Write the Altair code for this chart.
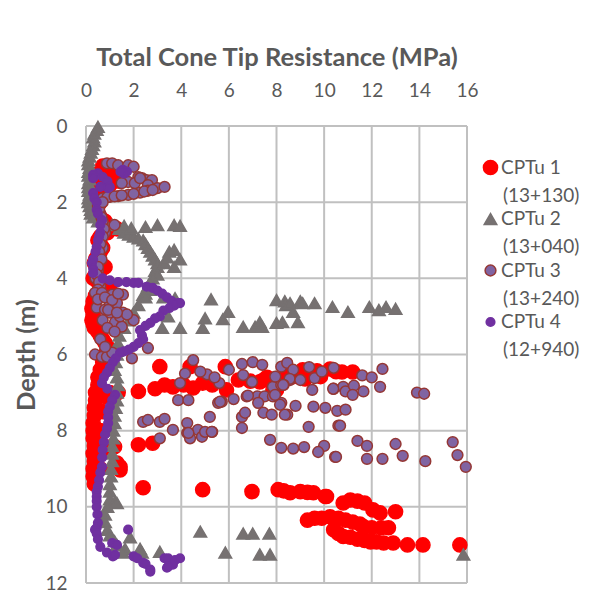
import altair as alt
import pandas as pd

series_names = ["CPTu 1", "CPTu 2", "CPTu 3", "CPTu 4"]
stations = ["(13+130)", "(13+040)", "(13+240)", "(12+940)"]
fills = ["#ff0000", "#767171", "#8064a2", "#7030a0"]
strokes = ["#ff0000", "#767171", "#953735", "#7030a0"]
shapes = ["circle", "triangle-up", "circle", "circle"]
sizes = [200, 75, 70, 95]
x_ticks = [0, 2, 4, 6, 8, 10, 12, 14, 16]
y_ticks = [0, 2, 4, 6, 8, 10, 12]

# CPTu 1 (13+130)
cpt1_q = [0.7, 0.9, 0.6, 0.5, 0.7, 0.8, 0.6, 0.5, 0.4, 0.5, 0.6, 0.5, 0.4, 0.5, 0.6, 0.8, 1.1, 1.3, 0.9, 0.6,
          0.5, 0.6, 0.7, 0.6, 0.5, 0.4, 0.35, 0.5, 0.8, 0.6, 0.4, 0.3, 0.5, 0.8, 1.0, 0.7, 0.4, 0.3, 0.3, 0.25,
          0.3, 0.3, 0.25, 0.3, 0.35, 0.5, 0.6, 0.7, 0.8, 0.9, 1.0, 0.8, 0.7, 0.7, 1.2, 1.4, 1.0,
          3.1, 4.37, 5.85, 2.2, 2.9, 3.65, 4.5, 4.9, 5.9, 6.4, 7.3, 7.85, 8.7, 9.2, 9.85, 1.35, 7.45, 8.0, 8.6,
          9.1, 9.7, 10.25, 10.75, 11.2, 3.3, 4.1, 5.3, 6.9, 7.6, 8.3, 9.5, 10.5,
          0.6, 0.5, 0.5, 0.4, 0.4, 0.35, 0.35, 0.3, 0.3, 0.3, 0.35, 0.3, 0.35, 0.3, 0.3, 0.35, 0.8, 0.7, 0.6, 0.7,
          0.6, 1.13, 1.2, 1.3, 1.43, 1.43, 2.2, 2.8, 1.0, 1.2,
          2.4, 4.9, 6.97, 8.07, 8.3, 8.57, 9.0, 9.3, 9.55, 10.05, 10.1,
          10.8, 11.1, 11.4, 11.7, 12.05, 12.35, 13.0, 10.25, 9.3, 9.6, 9.9, 10.6, 10.9, 11.2, 11.5, 11.65, 12.0,
          12.4, 12.7, 10.4, 10.8, 10.6, 11.1, 11.4, 11.7, 11.95, 12.2, 12.5, 12.9, 13.5, 14.15, 15.7]
cpt1_d = [1.05, 1.1, 1.2, 1.3, 1.4, 1.5, 1.6, 1.7, 1.8, 1.9, 2.0, 2.1, 2.2, 2.3, 2.4, 2.5, 2.65, 2.7, 2.8, 2.9,
          3.0, 3.1, 3.2, 3.3, 3.4, 3.5, 3.6, 3.7, 3.7, 3.8, 3.9, 4.0, 4.1, 4.2, 4.25, 4.35, 4.45, 4.6, 4.7, 4.8,
          4.9, 5.0, 5.1, 5.2, 5.3, 5.4, 5.5, 5.6, 5.7, 5.8, 5.9, 6.0, 6.1, 6.2, 1.25, 1.45, 1.55,
          6.32, 6.32, 6.32, 6.97, 6.9, 6.85, 6.88, 6.75, 6.93, 6.67, 6.72, 6.93, 6.58, 6.64, 6.58, 7.0, 6.67, 6.93, 6.53,
          6.4, 6.43, 6.38, 6.46, 6.46, 6.8, 6.8, 6.8, 6.7, 6.6, 6.6, 6.5, 6.45,
          6.4, 6.6, 6.8, 7.0, 7.2, 7.4, 7.6, 7.8, 8.0, 8.2, 8.4, 8.6, 8.8, 9.0, 9.2, 9.4, 7.1, 7.5, 8.0, 8.5,
          9.0, 8.4, 8.42, 8.85, 8.95, 9.03, 8.37, 8.33, 7.0, 7.05,
          9.5, 9.55, 9.6, 9.55, 9.58, 9.63, 9.6, 9.62, 9.63, 9.73, 9.73,
          9.9, 9.82, 9.85, 9.9, 10.08, 10.16, 10.13, 10.26, 10.35, 10.3, 10.3, 10.3, 10.35, 10.4, 10.45, 10.52, 10.55,
          10.55, 10.55, 10.6, 10.78, 10.7, 10.8, 10.85, 10.88, 10.92, 10.92, 10.95, 10.95, 11.0, 11.0, 11.0]

# CPTu 2 (13+040)
cpt2_q = [0.5, 0.45, 0.35, 0.3, 0.35, 0.3, 0.25, 0.2, 0.15, 0.1, 0.1, 0.15, 0.1, 0.1, 0.15, 0.1, 0.1, 0.1, 0.15, 0.1,
          0.1, 0.15, 0.2, 0.2, 0.3, 0.5, 0.8, 1.1,
          1.4, 1.6, 1.8, 2.0, 2.2, 2.4, 2.5, 2.6, 2.7, 2.8, 2.9, 3.0, 3.0, 2.9, 3.0, 2.8, 2.7, 2.6, 2.7, 2.5,
          1.6, 1.9, 2.5, 3.0, 3.7, 3.95, 3.5, 3.7, 3.95, 3.3, 3.7, 3.4,
          2.4, 3.25, 3.74, 3.45, 3.95, 3.2, 5.25, 5.0, 4.9, 5.75, 5.97, 6.6, 7.1, 7.3, 7.4, 8.0, 8.0, 8.25, 8.35, 8.4,
          8.57, 8.7, 8.9, 9.0, 9.1, 9.6, 10.35, 11.0, 11.9, 12.3, 12.6, 13.0,
          2.5, 2.2, 2.0, 1.8, 1.6, 1.4, 1.35, 1.3,
          1.3, 1.25, 1.2, 1.3, 1.35, 1.3, 1.3, 1.25, 1.2, 1.2, 1.15, 1.15, 1.1, 1.1, 1.1, 1.05, 1.05, 1.0, 1.0, 1.0,
          1.22, 1.3, 0.9, 0.8, 0.8, 0.9, 1.0, 1.2, 1.3,
          4.8, 6.6, 7.0, 7.7, 5.85, 7.3, 7.73, 1.64, 2.27, 3.1, 1.85, 2.35, 1.55, 15.85]
cpt2_d = [0.02, 0.1, 0.2, 0.3, 0.4, 0.5, 0.6, 0.7, 0.8, 0.9, 1.0, 1.1, 1.2, 1.3, 1.4, 1.5, 1.6, 1.7, 1.8, 1.9,
          2.0, 2.1, 2.2, 2.3, 2.4, 2.5, 2.55, 2.6,
          2.7, 2.8, 2.85, 2.9, 2.95, 3.0, 3.1, 3.2, 3.3, 3.4, 3.5, 3.6, 3.7, 3.8, 3.9, 4.0, 4.1, 4.2, 4.3, 4.4,
          2.62, 2.68, 2.65, 2.6, 2.6, 2.62, 3.3, 3.25, 3.5, 3.6, 3.7, 3.45,
          4.43, 4.5, 4.52, 5.0, 5.3, 5.3, 4.55, 5.05, 5.3, 5.07, 4.88, 5.27, 5.27, 5.15, 5.27, 4.57, 5.17, 5.15, 4.6, 4.7,
          4.65, 4.88, 5.15, 4.6, 4.65, 4.65, 4.75, 4.88, 4.75, 4.83, 4.75, 4.8,
          4.5, 4.7, 4.9, 5.1, 5.3, 5.5, 5.7, 5.9,
          6.0, 6.2, 6.4, 6.6, 6.8, 7.0, 7.2, 7.4, 7.6, 7.8, 8.0, 8.2, 8.4, 8.6, 8.8, 9.0, 9.2, 9.4, 9.6, 9.8,
          9.87, 9.9, 10.0, 10.2, 10.4, 10.6, 10.75, 10.9, 11.0,
          10.65, 10.7, 10.7, 10.7, 11.2, 11.25, 11.25, 11.1, 11.1, 11.18, 10.8, 11.2, 11.2, 11.25]

# CPTu 3 (13+240)
cpt3_q = [0.88, 1.1, 1.35, 1.77, 2.0, 1.55, 2.2, 2.35, 2.55, 2.77, 1.55, 1.77, 2.05, 2.27, 2.6, 1.5,
          0.7, 1.0, 1.35, 1.77, 2.27, 2.6, 3.0, 3.3, 0.9, 1.2, 1.5, 2.0, 2.45, 2.8,
          0.5, 0.6, 0.7, 1.2, 0.8, 0.6, 0.7, 0.5, 0.4, 0.5, 0.4, 0.6,
          0.55, 0.65, 0.75, 0.7, 0.6, 0.55, 0.65, 0.5, 0.45, 0.55, 0.5, 0.7,
          0.38, 0.67, 1.1, 1.55, 0.45, 0.8, 1.0, 1.3, 1.0, 1.35, 1.55, 1.22, 1.5, 2.0, 1.43, 1.72, 2.6, 0.38, 0.67,
          0.88, 1.1, 1.93, 0.5, 0.7, 0.9, 1.2, 0.6, 0.8, 0.8, 1.1, 1.35, 0.93, 1.3,
          4.5, 4.16, 5.08, 3.95, 3.87, 4.3, 5.6, 5.55, 5.7, 6.2, 6.55, 6.6, 6.97, 6.75, 7.0, 7.4, 7.2, 7.5, 7.85,
          7.85, 8.2, 8.45, 8.7, 8.2, 8.57, 8.2, 8.8, 8.45, 9.37, 9.6, 9.55, 10.05, 9.5, 10.4, 12.45, 7.95, 8.55,
          9.0, 8.3, 10.4, 10.8, 10.9, 11.25, 11.2, 11.65, 12.35, 13.9, 14.2, 7.45, 7.8, 8.35, 9.35, 10.6, 7.73,
          8.2, 8.7, 9.16, 10.0, 11.4, 11.8, 13.0, 15.4, 10.55, 10.9, 4.25, 4.25, 4.37, 4.7, 4.87, 5.0, 5.3, 5.2,
          6.55, 6.68, 6.55, 9.75, 10.46, 10.67, 6.8, 7.23, 7.94, 8.15, 8.28, 10.38, 5.63, 2.4, 2.6, 3.1, 3.3,
          3.65, 3.1, 4.3, 5.28, 10.5, 11.8, 12.45, 13.3, 14.25, 15.6, 15.95, 6.0, 5.4, 4.8, 9.9, 11.6, 12.0]
cpt3_d = [0.98, 0.98, 1.03, 1.03, 1.07, 1.2, 1.34, 1.37, 1.42, 1.42, 1.47, 1.47, 1.5, 1.37, 1.55, 1.5,
          1.9, 1.86, 1.84, 1.81, 1.75, 1.7, 1.63, 1.6, 1.87, 1.85, 1.82, 1.78, 1.72, 1.68,
          2.1, 2.3, 2.5, 2.6, 2.8, 3.0, 3.2, 3.4, 3.6, 3.8, 4.0, 4.2,
          2.2, 2.4, 2.7, 2.9, 3.1, 3.3, 3.5, 3.7, 3.9, 4.1, 4.3, 2.0,
          4.38, 4.38, 4.43, 4.43, 4.77, 4.82, 4.65, 4.65, 4.9, 5.0, 4.9, 5.15, 5.27, 5.1, 5.0, 4.95, 5.83, 6.0, 6.06,
          6.06, 5.95, 6.1, 4.55, 5.1, 5.3, 5.4, 5.6, 5.8, 4.5, 4.57, 4.4, 4.83, 4.9,
          6.15, 6.5, 6.52, 6.75, 7.2, 7.2, 6.75, 7.27, 7.24, 7.17, 6.25, 6.54, 6.72, 7.1, 6.2, 6.27, 7.1, 7.1, 7.1,
          6.85, 6.32, 6.22, 6.4, 6.8, 6.67, 7.27, 7.35, 7.58, 6.33, 6.62, 7.37, 7.4, 6.93, 6.35, 6.38, 6.58, 6.64,
          6.67, 6.8, 6.9, 6.85, 6.97, 6.82, 7.06, 6.97, 6.85, 7.0, 7.03, 7.53, 7.58, 7.58, 7.9, 7.87, 8.24,
          8.45, 8.47, 8.43, 8.4, 8.27, 8.4, 8.35, 8.3, 7.48, 7.45, 7.8, 8.06, 8.2, 7.98, 8.16, 8.03, 8.03, 7.64,
          7.64, 7.53, 7.93, 8.56, 8.69, 7.87, 7.08, 7.27, 7.06, 7.32, 6.8, 6.9, 7.24, 7.77, 7.72, 7.77, 7.69,
          7.98, 8.2, 8.06, 8.03, 8.69, 8.74, 8.74, 8.66, 8.8, 8.64, 8.95, 6.4, 6.6, 6.45, 6.45, 6.55, 6.6]

# CPTu 4 (12+940)
cpt4_q = [1.55, 1.72, 1.6, 1.45, 0.5, 0.3, 0.3, 0.7, 0.9, 1.0, 0.93, 0.6, 0.3, 0.35, 0.45, 0.45, 0.5, 0.67,
          0.6, 0.6, 0.55, 0.5, 0.45, 0.4, 0.3, 0.25, 0.3, 0.3, 0.7, 1.0, 1.35, 1.7, 2.0, 2.2, 2.55, 2.8, 3.0,
          3.2, 3.4, 3.6, 3.87, 3.95, 3.7, 3.5, 3.25, 3.1, 2.9, 2.7, 2.5, 2.27, 2.35, 2.4, 2.2, 2.0, 1.8, 1.6,
          1.43, 1.25, 1.13, 1.0, 0.88, 0.75, 0.67, 0.9, 1.22, 1.1, 1.0, 0.93, 0.93, 0.93, 0.88, 0.8, 0.75, 0.7,
          0.68, 0.67, 0.6, 0.55, 0.5, 0.45, 0.45, 0.45, 0.45, 0.48, 0.5, 0.45, 0.38, 0.45, 0.5, 0.6, 0.88, 1.1,
          1.3, 1.13, 1.22, 1.77, 2.0, 2.15, 2.4, 2.5, 2.7, 2.7, 3.3, 3.45, 3.74, 3.95, 3.4, 3.65, 3.45]
cpt4_d = [1.15, 1.2, 1.25, 1.2, 1.24, 1.28, 1.37, 1.34, 1.45, 1.6, 1.63, 1.6, 1.76, 1.9, 2.0, 2.2, 2.3, 2.47,
          2.6, 2.8, 2.9, 3.0, 3.17, 3.3, 3.5, 3.6, 3.75, 3.86, 4.0, 4.05, 4.1, 4.1, 4.12, 4.12, 4.22, 4.25, 4.32,
          4.4, 4.5, 4.6, 4.65, 4.65, 4.72, 4.78, 4.85, 5.0, 5.05, 5.17, 5.25, 5.36, 5.5, 5.6, 5.7, 5.8, 5.87, 5.92,
          5.95, 6.1, 6.2, 6.35, 6.48, 6.6, 6.75, 6.9, 7.06, 7.2, 7.37, 7.5, 7.65, 7.8, 7.95, 8.1, 8.3, 8.5,
          8.7, 8.95, 9.1, 9.3, 9.47, 9.6, 9.73, 9.85, 10.0, 10.2, 10.42, 10.55, 10.6, 10.7, 10.85, 11.05, 11.2, 10.95,
          11.0, 11.3, 11.26, 10.6, 11.3, 11.35, 11.47, 11.5, 11.65, 11.7, 11.35, 11.35, 11.4, 11.35, 11.6, 11.52, 11.57]

all_q = [cpt1_q, cpt2_q, cpt3_q, cpt4_q]
all_d = [cpt1_d, cpt2_d, cpt3_d, cpt4_d]

rows = []
for i, name in enumerate(series_names):
    for q, d in zip(all_q[i], all_d[i]):
        rows.append({"series": name, "station": stations[i], "q": q, "depth": d, "order": i})
df = pd.DataFrame(rows)
gx = pd.DataFrame({"q": x_ticks})
gy = pd.DataFrame({"depth": y_ticks})

FONT = "Lato"
TXT = "#595959"
GRID = "#c0c0c0"

xscale = alt.Scale(domain=[0, 16], nice=False)
yscale = alt.Scale(domain=[0, 12], reverse=True, nice=False)

legend_main = alt.Legend(title=None, orient="none", legendX=395, legendY=32,
                         labelFontSize=19, labelFont=FONT, labelColor=TXT,
                         rowPadding=31.5, labelOffset=1, padding=0)
legend_station = alt.Legend(title=None, orient="none", legendX=398, legendY=60,
                            labelFontSize=19, labelFont=FONT, labelColor=TXT,
                            rowPadding=31.5, labelOffset=0, padding=0,
                            symbolSize=0, symbolStrokeWidth=0, symbolFillColor="transparent",
                            symbolStrokeColor="transparent")

vgrid = alt.Chart(gx).mark_rule(color=GRID, strokeWidth=2).encode(
    x=alt.X("q:Q", scale=xscale)
)
hgrid = alt.Chart(gy).mark_rule(color=GRID, strokeWidth=2).encode(
    y=alt.Y("depth:Q", scale=yscale)
)

points = alt.Chart(df).mark_point(filled=True, opacity=1, strokeWidth=1.5).encode(
    x=alt.X("q:Q", scale=xscale,
            axis=alt.Axis(orient="top", title="Total Cone Tip Resistance (MPa)", values=x_ticks)),
    y=alt.Y("depth:Q", scale=yscale,
            axis=alt.Axis(title="Depth (m)", values=y_ticks)),
    fill=alt.Fill("series:N", scale=alt.Scale(domain=series_names, range=fills), legend=legend_main),
    stroke=alt.Stroke("series:N", scale=alt.Scale(domain=series_names, range=strokes)),
    shape=alt.Shape("series:N", scale=alt.Scale(domain=series_names, range=shapes)),
    size=alt.Size("series:N", scale=alt.Scale(domain=series_names, range=sizes)),
    opacity=alt.Opacity("station:N", scale=alt.Scale(domain=stations, range=[1, 1]), legend=legend_station),
    order=alt.Order("order:Q"),
)

chart = alt.layer(vgrid, hgrid, points).properties(
    width=381, height=457,
    autosize=alt.AutoSizeParams(type="none"),
    padding={"left": 78, "top": 118, "right": 131, "bottom": 21},
).configure_view(stroke=None).configure_axis(
    grid=False, domain=False, ticks=False,
    labelFlush=False,
    labelFont=FONT, labelFontSize=19, labelColor=TXT,
    titleFont=FONT, titleFontSize=25.5, titleFontWeight="bold", titleColor=TXT,
).configure_axisX(labelPadding=26, titlePadding=11).configure_axisY(
    labelPadding=19, titlePadding=5
)

chart.save("out.html", embed_options={"renderer": "svg", "actions": False})
